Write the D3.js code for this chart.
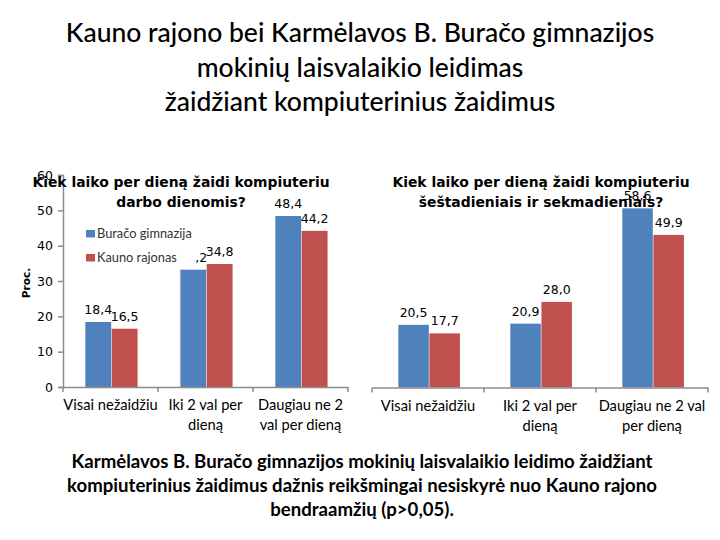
<!DOCTYPE html>
<html><head><meta charset="utf-8">
<script src="https://cdn.jsdelivr.net/npm/d3@7"></script>
<style>body{margin:0;background:#fff}svg{display:block}</style>
</head><body>
<script>
const mainTitle = ["Kauno rajono bei Karmėlavos B. Buračo gimnazijos", "mokinių laisvalaikio leidimas", "žaidžiant kompiuterinius žaidimus"];
const footer = ["Karmėlavos B. Buračo gimnazijos mokinių laisvalaikio leidimo žaidžiant", "kompiuterinius žaidimus dažnis reikšmingai nesiskyrė nuo Kauno rajono", "bendraamžių (p>0,05)."];
const leftTitle = ["Kiek laiko per dieną žaidi kompiuteriu", "darbo dienomis?"];
const rightTitle = ["Kiek laiko per dieną žaidi kompiuteriu", "šeštadieniais ir sekmadieniais?"];
const leftCategories = [["Visai nežaidžiu"], ["Iki 2 val per", "dieną"], ["Daugiau ne 2", "val per dieną"]];
const rightCategories = [["Visai nežaidžiu"], ["Iki 2 val per", "dieną"], ["Daugiau ne 2 val", "per dieną"]];
const seriesNames = ["Buračo gimnazija", "Kauno rajonas"];
const weekdayBuraco = [18.4, 33.2, 48.4];
const weekdayKaunas = [16.5, 34.8, 44.2];
const weekendBuraco = [20.5, 20.9, 58.6];
const weekendKaunas = [17.7, 28.0, 49.9];
const leftTicks = [0, 10, 20, 30, 40, 50, 60];
const yAxisTitle = "Proc.";
const colors = ["#4F81BD", "#C0504D"];

const W = 720, H = 540;
const svg = d3.select("body").append("svg").attr("width", W).attr("height", H);
const fmt = v => v.toFixed(1).replace(".", ",");
const axisColor = "#8c8c8c";

// main title
svg.append("g").selectAll("text").data(mainTitle).join("text")
  .attr("x", 360).attr("y", (d, i) => 42 + i * 34.5)
  .attr("text-anchor", "middle").attr("font-family", "Lato").attr("font-size", 26.5)
  .attr("font-weight", 500).attr("fill", "#000").text(d => d);

function drawChart(opt) {
  const g = svg.append("g");
  const x = d3.scaleBand().domain(d3.range(opt.categories.length)).range(opt.xRange);
  const y = d3.scaleLinear().domain([0, opt.yMax]).range(opt.yRange);
  const bw = x.bandwidth();
  const xs = d3.scaleBand().domain([0, 1]).range([0.235 * bw, 0.785 * bw]).paddingInner(0.02);
  const series = [opt.a, opt.b];

  if (opt.showY) {
    const ax = g.append("g").attr("transform", `translate(${opt.xRange[0]},0)`)
      .call(d3.axisLeft(y).tickValues(leftTicks).tickSize(5).tickPadding(5).tickFormat(d3.format("d")));
    ax.selectAll("path,line").attr("stroke", axisColor).attr("stroke-width", 1.5);
    ax.selectAll("text").attr("font-family", "DejaVu Sans").attr("font-size", 12.5).attr("fill", "#000");
    g.append("text").attr("transform", `translate(30,${(opt.yRange[0] + opt.yRange[1]) / 2 + 2}) rotate(-90)`)
      .attr("text-anchor", "middle").attr("font-family", "DejaVu Sans").attr("font-weight", "bold")
      .attr("font-size", 10.5).text(yAxisTitle);
  }

  // bars
  series.forEach((vals, si) => {
    g.append("g").selectAll("rect").data(vals).join("rect")
      .attr("x", (d, i) => x(i) + xs(si)).attr("width", xs.bandwidth())
      .attr("y", d => y(d)).attr("height", d => y(0) - y(d)).attr("fill", colors[si]);
  });
  // labels
  series.forEach((vals, si) => {
    g.append("g").selectAll("text").data(vals).join("text")
      .attr("x", (d, i) => x(i) + xs(si) + xs.bandwidth() / 2).attr("y", d => y(d) - 8)
      .attr("text-anchor", "middle").attr("font-family", "DejaVu Sans").attr("font-size", 12.5)
      .attr("fill", "#000").text(fmt);
  });

  // x axis
  const ax = g.append("g").attr("transform", `translate(0,${y(0)})`)
    .call(d3.axisBottom(x).tickSize(0).tickFormat(""));
  ax.select(".domain").attr("stroke", axisColor).attr("stroke-width", 1.5);
  ax.selectAll(".tick").remove();
  const bounds = d3.range(opt.categories.length + 1).map(i => i < opt.categories.length ? x(i) : x(i - 1) + bw);
  ax.selectAll("line.b").data(bounds).join("line").attr("class", "b")
    .attr("x1", d => d).attr("x2", d => d).attr("y1", 0).attr("y2", 5)
    .attr("stroke", axisColor).attr("stroke-width", 1.5);
  const lab = g.append("g").selectAll("text").data(opt.categories).join("text")
    .attr("x", (d, i) => x(i) + bw / 2).attr("y", y(0) + 23)
    .attr("text-anchor", "middle").attr("font-family", "Lato").attr("font-size", 14.7).attr("fill", "#000");
  lab.selectAll("tspan").data(d => d).join("tspan")
    .attr("x", function () { return d3.select(this.parentNode).attr("x"); })
    .attr("dy", (d, i) => i === 0 ? 0 : 20).text(d => d);

  // legend
  if (opt.legend) {
    const lg = g.append("g");
    lg.append("rect").attr("x", 80).attr("y", 222).attr("width", 116).attr("height", 47).attr("fill", "#fff");
    seriesNames.forEach((n, i) => {
      lg.append("rect").attr("x", 86).attr("y", 230 + i * 24).attr("width", 9).attr("height", 7.5).attr("fill", colors[i]);
      lg.append("text").attr("x", 97).attr("y", 238 + i * 24).attr("font-family", "Lato")
        .attr("font-size", 12.8).attr("fill", "#333").text(n);
    });
  }

  // chart title
  g.append("g").selectAll("text").data(opt.title).join("text")
    .attr("x", opt.titleX).attr("y", (d, i) => 187 + i * 20)
    .attr("text-anchor", "middle").attr("font-family", "DejaVu Sans").attr("font-weight", "bold")
    .attr("font-size", 13.9).attr("fill", "#000").text(d => d);
}

drawChart({ categories: leftCategories, a: weekdayBuraco, b: weekdayKaunas, xRange: [63, 348], yMax: 60,
  yRange: [387, 175], showY: true, legend: true, title: leftTitle, titleX: 181 });
drawChart({ categories: rightCategories, a: weekendBuraco, b: weekendKaunas, xRange: [372, 708], yMax: 70,
  yRange: [387.5, 173.5], showY: false, legend: false, title: rightTitle, titleX: 541 });

// footer
svg.append("g").selectAll("text").data(footer).join("text")
  .attr("x", 362).attr("y", (d, i) => 468 + i * 24)
  .attr("text-anchor", "middle").attr("font-family", "Lato").attr("font-size", 18.6)
  .attr("font-weight", "bold").attr("fill", "#000").text(d => d);
</script>
</body></html>
